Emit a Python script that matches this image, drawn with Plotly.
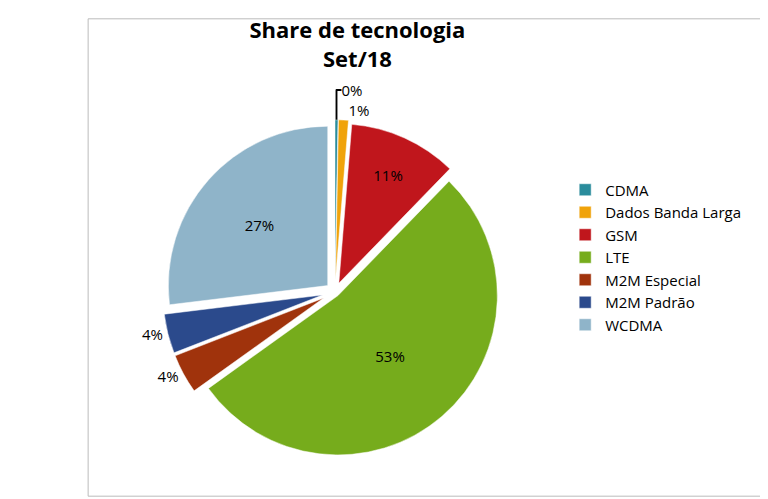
import plotly.graph_objects as go

categories = ["CDMA", "Dados Banda Larga", "GSM", "LTE", "M2M Especial", "M2M Padrão", "WCDMA"]
values = [0.3, 1.0, 11, 53, 4, 4, 27]
colors = ["#2A8C9C", "#F0A30A", "#C0161C", "#76AC1C", "#A0330C", "#2B4A8C", "#8FB4C9"]
pulls = [0.08, 0.08, 0.06, 0.03, 0.08, 0.08, 0.06]

fig = go.Figure(go.Pie(
    labels=categories, values=values, sort=False, direction="clockwise", rotation=0,
    marker=dict(colors=colors, line=dict(color="white", width=0.5)),
    pull=pulls, texttemplate="%{percent:.0%}",
    textposition=["outside", "outside", "inside", "inside", "outside", "outside", "inside"],
    textfont=dict(size=15, color="black"), insidetextfont=dict(color="black"),
    domain=dict(x=[0.02, 0.70], y=[0.05, 0.80]),
))
fig.update_layout(
    width=768, height=499, paper_bgcolor="white",
    font=dict(family="Open Sans, DejaVu Sans", color="black"),
    title=dict(text="<b>Share de tecnologia<br>Set/18</b>", x=0.455, xanchor="center", y=0.94,
               font=dict(size=22)),
    legend=dict(x=0.71, y=0.5, yanchor="middle", font=dict(size=15), tracegroupgap=12),
    margin=dict(l=20, r=20, t=20, b=20),
    shapes=[dict(type="rect", xref="paper", yref="paper", x0=-0.015, y0=-0.02, x1=1.015, y1=1.02,
                 line=dict(color="#BBBBBB", width=1))],
)
fig.write_html("out.html")
